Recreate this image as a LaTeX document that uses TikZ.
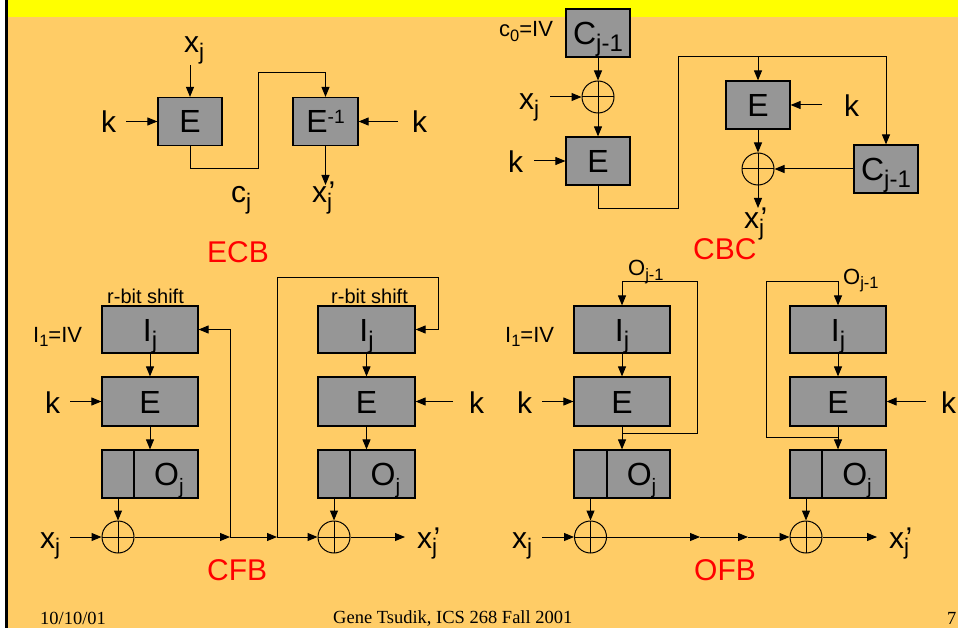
\documentclass[tikz,border=0pt]{standalone}
\usepackage{fontspec}
\setmainfont{Liberation Sans}
\newfontfamily\footfont{Liberation Serif}
\usetikzlibrary{arrows.meta,calc}
\definecolor{bgorange}{HTML}{FFCC66}
\definecolor{bandyellow}{HTML}{FFFF00}
\definecolor{boxgray}{HTML}{969696}
\newcommand\sbs[1]{\raisebox{-0.22em}{\scalebox{0.75}{#1}}}
\newcommand\sbsm[1]{\raisebox{-0.25em}{\scalebox{0.65}{#1}}}
\newcommand\sps[1]{\raisebox{0.3em}{\scalebox{0.6}{#1}}}
\tikzset{
  lbl/.style={inner sep=0pt, anchor=base west, font=\fontsize{30}{32}\selectfont},
  sml/.style={inner sep=0pt, anchor=base west, font=\fontsize{22}{24}\selectfont},
  tiny/.style={inner sep=0pt, anchor=base west, font=\fontsize{20}{22}\selectfont},
  modename/.style={inner sep=0pt, anchor=base west, text=red, font=\fontsize{30}{34}\selectfont},
  foot/.style={inner sep=0pt, anchor=base west, font=\footfont\fontsize{18.5}{20}\selectfont},
  blk/.style={draw=black, line width=1.2pt, fill=boxgray, inner sep=0pt, text height=23pt, text depth=0pt, font=\fontsize{32}{36}\selectfont},
  xor/.style={circle, draw=black, line width=1pt, minimum size=32pt, inner sep=0pt,
    path picture={\draw[line width=1pt] (path picture bounding box.north) -- (path picture bounding box.south)
      (path picture bounding box.west) -- (path picture bounding box.east);}},
  arr/.style={-{Triangle[length=10pt,width=8pt]}, line width=1pt},
  wire/.style={line width=1pt}
}
\begin{document}
\begin{tikzpicture}[x=1pt,y=-1pt]
\useasboundingbox (0,0) rectangle (958,628);
% background
\fill[white] (0,0) rectangle (958,628);
\fill[bgorange] (8,0) rectangle (958,628);
\fill[bandyellow] (8,0) rectangle (958,17);
\fill[black] (5,0) rectangle (8,628);

% ================= ECB =================
\node[blk, minimum width=64pt, minimum height=48pt] (ecbE) at (190,121.5) {E};
\node[blk, minimum width=65pt, minimum height=48pt] (ecbD) at (325.5,121.5) {E\sps{-1}};
\node[lbl] (ecbx) at (184,53) {x\sbs{j}};
\node[lbl] (ecbk1) at (101,133) {k};
\node[lbl] (ecbk2) at (412,133) {k};
\node[lbl] (ecbc) at (231,203) {c\sbs{j}};
\node[lbl] (ecbxo) at (312,203) {x\sbs{j}\kern-0.12em’};
\node[modename] (ecbname) at (207,262) {ECB};
\coordinate (ecbxin) at (190,65);
\coordinate (ecbk1in) at (126,121.5);
\coordinate (ecbk2in) at (398,121.5);
\coordinate (ecbout) at (325.5,185);
\draw[arr] (ecbxin) -- (ecbE.north);
\draw[arr] (ecbk1in) -- (ecbE.west);
\draw[arr] (ecbk2in) -- (ecbD.east);
\draw[arr] (ecbE.south) -- (190,169) -- (258,169) -- (258,73) -- (325.5,73) -- (ecbD.north);
\draw[arr] (ecbD.south) -- (ecbout);

% ================= CBC =================
\node[blk, minimum width=64pt, minimum height=48pt] (cbcC0) at (598,33) {C\sbs{j-1}};
\node[xor] (cbcX1) at (598,97) {};
\node[blk, minimum width=64pt, minimum height=48pt] (cbcE1) at (598,161) {E};
\node[blk, minimum width=64pt, minimum height=48pt] (cbcE2) at (758,105) {E};
\node[xor] (cbcX2) at (758,169) {};
\node[blk, minimum width=64pt, minimum height=48pt] (cbcC2) at (886,169) {C\sbs{j-1}};
\node[sml] (cbciv) at (499,37) {c\sbs{0}=IV};
\node[lbl] (cbcx) at (519,110) {x\sbs{j}};
\node[lbl] (cbck1) at (508,173) {k};
\node[lbl] (cbck2) at (844,117) {k};
\node[lbl] (cbcxo) at (744,229) {x\sbs{j}\kern-0.12em’};
\node[modename] (cbcname) at (693,260) {CBC};
\coordinate (cbcxin) at (550,97);
\coordinate (cbckin1) at (534,161);
\coordinate (cbckin2) at (822,105);
\coordinate (cbcbr) at (758,57);
\coordinate (cbcout) at (758,208);
\draw[arr] (cbcC0.south) -- (cbcX1.north);
\draw[arr] (cbcxin) -- (cbcX1.west);
\draw[arr] (cbcX1.south) -- (cbcE1.north);
\draw[arr] (cbckin1) -- (cbcE1.west);
\draw[arr] (cbcE1.south) -- (598,209) -- (678,209) -- (678,57) -- (886,57) -- (cbcC2.north);
\draw[arr] (cbcbr) -- (cbcE2.north);
\draw[arr] (cbckin2) -- (cbcE2.east);
\draw[arr] (cbcE2.south) -- (cbcX2.north);
\draw[arr] (cbcC2.west) -- (cbcX2.east);
\draw[arr] (cbcX2.south) -- (cbcout);

% ================= CFB =================
\node[blk, minimum width=96pt, minimum height=47pt] (cfbI1) at (150,329.5) {I\sbs{j}};
\node[blk, minimum width=96pt, minimum height=49pt] (cfbE1) at (150,401.5) {E};
\node[blk, minimum width=32pt, minimum height=48pt] (cfbOL1) at (118,474) {};
\node[blk, minimum width=64pt, minimum height=48pt] (cfbO1) at (166,474) {\hspace{6pt}O\sbsm{j}};
\node[xor] (cfbX1) at (118,537) {};
\node[blk, minimum width=97pt, minimum height=47pt] (cfbI2) at (366.5,329.5) {I\sbs{j}};
\node[blk, minimum width=97pt, minimum height=49pt] (cfbE2) at (366.5,401.5) {E};
\node[blk, minimum width=32pt, minimum height=48pt] (cfbOL2) at (334,474) {};
\node[blk, minimum width=65pt, minimum height=48pt] (cfbO2) at (382.5,474) {\hspace{6pt}O\sbsm{j}};
\node[xor] (cfbX2) at (334,537) {};
\node[tiny] (cfbrs1) at (107,303) {r-bit shift};
\node[tiny] (cfbrs2) at (331,303) {r-bit shift};
\node[sml] (cfbiv) at (33,342) {I\sbs{1}=IV};
\node[lbl] (cfbk1) at (45,413) {k};
\node[lbl] (cfbk2) at (469,413) {k};
\node[lbl] (cfbx) at (40,548) {x\sbs{j}};
\node[lbl] (cfbxo) at (417,548) {x\sbs{j}\kern-0.12em’};
\node[modename] (cfbname) at (207,580) {CFB};
\coordinate (cfbkin1) at (70,401.5);
\coordinate (cfbkin2) at (453,401.5);
\coordinate (cfbxin) at (70,537);
\coordinate (cfbA) at (230,537);
\coordinate (cfbB) at (277,537);
\coordinate (cfbout) at (405,537);
\draw[arr] (cfbI1.south) -- (cfbE1.north);
\draw[arr] (cfbkin1) -- (cfbE1.west);
\draw[arr] (cfbE1.south) -- (cfbE1.south |- cfbO1.north);
\draw[arr] (cfbOL1.south) -- (cfbX1.north);
\draw[arr] (cfbxin) -- (cfbX1.west);
\draw[arr] (cfbX1.east) -- (cfbA);
\draw[arr] (cfbA) -- (cfbB);
\draw[arr] (cfbB) -- (cfbX2.west);
\draw[arr] (cfbX2.east) -- (cfbout);
\draw[arr] (cfbA) |- (cfbI1.east);
\draw[arr] (cfbB) -- (277,278) -- (438,278) -- (438,329.5) -- (cfbI2.east);
\draw[arr] (cfbI2.south) -- (cfbE2.north);
\draw[arr] (cfbkin2) -- (cfbE2.east);
\draw[arr] (cfbE2.south) -- (cfbE2.south |- cfbO2.north);
\draw[arr] (cfbOL2.south) -- (cfbX2.north);

% ================= OFB =================
\node[blk, minimum width=96pt, minimum height=47pt] (ofbI1) at (622,329.5) {I\sbs{j}};
\node[blk, minimum width=96pt, minimum height=49pt] (ofbE1) at (622,401.5) {E};
\node[blk, minimum width=33pt, minimum height=48pt] (ofbOL1) at (590.5,474) {};
\node[blk, minimum width=63pt, minimum height=48pt] (ofbO1) at (638.5,474) {\hspace{6pt}O\sbsm{j}};
\node[xor] (ofbX1) at (590.5,537) {};
\node[blk, minimum width=96pt, minimum height=47pt] (ofbI2) at (838,329.5) {I\sbs{j}};
\node[blk, minimum width=96pt, minimum height=49pt] (ofbE2) at (838,401.5) {E};
\node[blk, minimum width=32pt, minimum height=48pt] (ofbOL2) at (806,474) {};
\node[blk, minimum width=64pt, minimum height=48pt] (ofbO2) at (854,474) {\hspace{6pt}O\sbsm{j}};
\node[xor] (ofbX2) at (806,537) {};
\node[sml] (ofbo1) at (628,276) {O\sbs{j-1}};
\node[sml] (ofbo2) at (843,284) {O\sbs{j-1}};
\node[sml] (ofbiv) at (505,342) {I\sbs{1}=IV};
\node[lbl] (ofbk1) at (517,413) {k};
\node[lbl] (ofbk2) at (941,413) {k};
\node[lbl] (ofbx) at (512,548) {x\sbs{j}};
\node[lbl] (ofbxo) at (889,548) {x\sbs{j}\kern-0.12em’};
\node[modename] (ofbname) at (694,580) {OFB};
\coordinate (ofbkin1) at (542,401.5);
\coordinate (ofbkin2) at (926,401.5);
\coordinate (ofbxin) at (542,537);
\coordinate (ofbA) at (700,537);
\coordinate (ofbB) at (748,537);
\coordinate (ofbout) at (877,537);
\coordinate (ofbF1) at (622,433);
\coordinate (ofbF2) at (838,437);
\draw[arr] (ofbI1.south) -- (ofbE1.north);
\draw[arr] (ofbkin1) -- (ofbE1.west);
\draw[arr] (ofbE1.south) -- (ofbE1.south |- ofbO1.north);
\draw[arr] (ofbOL1.south) -- (ofbX1.north);
\draw[arr] (ofbxin) -- (ofbX1.west);
\draw[arr] (ofbX1.east) -- (ofbA);
\draw[arr] (ofbA) -- (ofbB);
\draw[arr] (ofbB) -- (ofbX2.west);
\draw[arr] (ofbX2.east) -- (ofbout);
\draw[arr] (ofbF1) -- (697,433) -- (697,282) -- (622,282) -- (ofbI1.north);
\draw[arr] (ofbI2.south) -- (ofbE2.north);
\draw[arr] (ofbkin2) -- (ofbE2.east);
\draw[arr] (ofbE2.south) -- (ofbE2.south |- ofbO2.north);
\draw[arr] (ofbOL2.south) -- (ofbX2.north);
\draw[arr] (ofbF2) -- (766,437) -- (766,282) -- (838,282) -- (ofbI2.north);

% ================= footer =================
\node[foot] (fdate) at (40,624) {10/10/01};
\node[foot] (fauthor) at (333,623) {Gene Tsudik, ICS 268 Fall 2001};
\node[foot] (fpage) at (947,624) {7};
\end{tikzpicture}
\end{document}
